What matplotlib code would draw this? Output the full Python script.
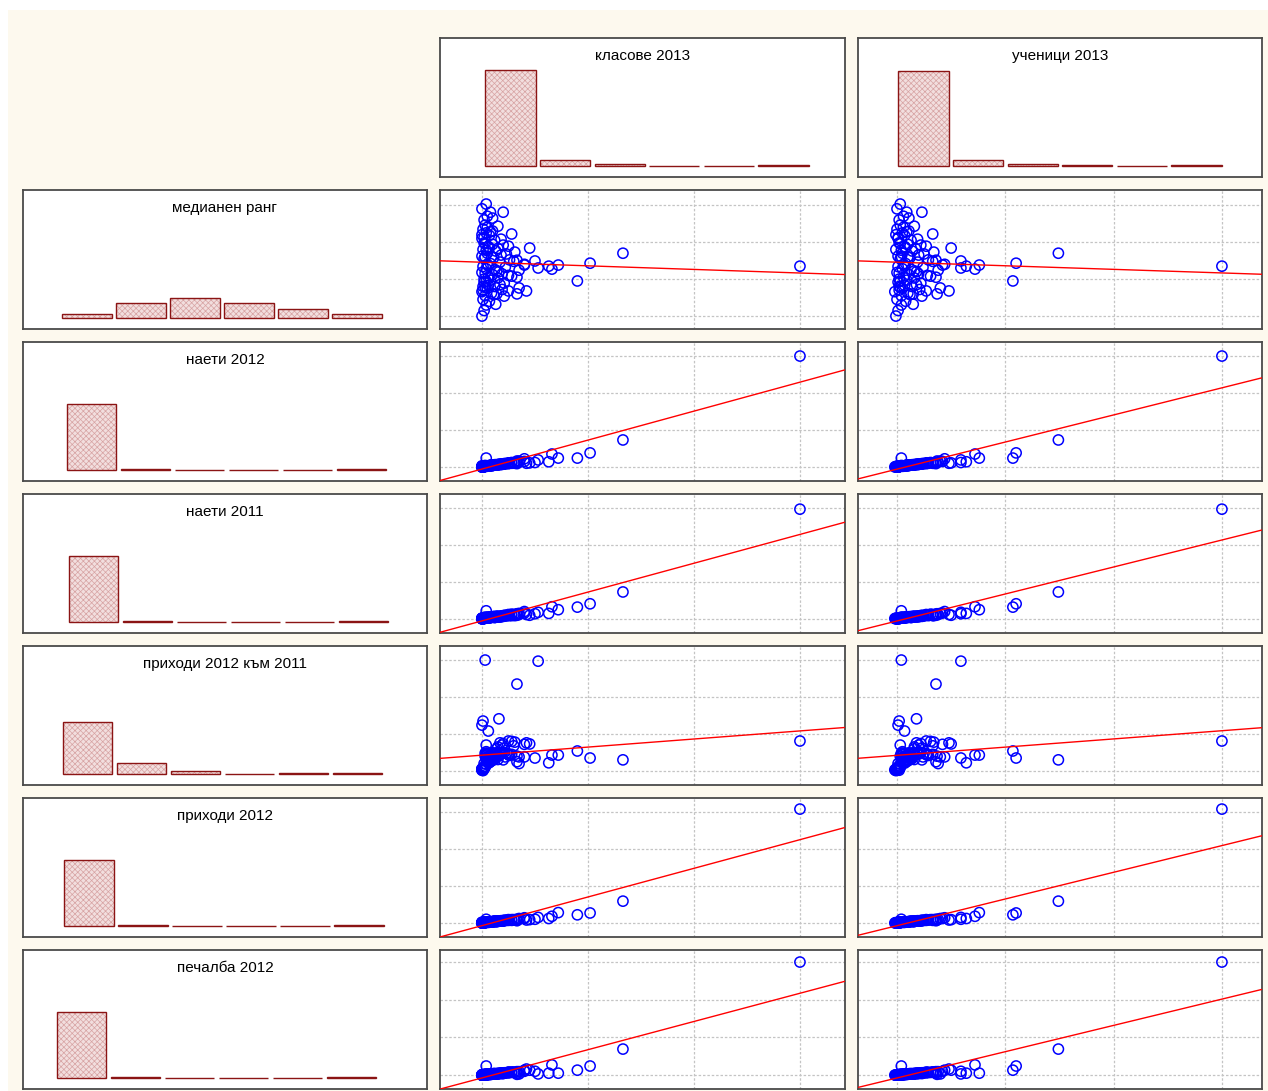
import matplotlib
matplotlib.use("Agg")
import matplotlib.pyplot as plt
import numpy as np

plt.rcParams["font.family"] = ["Liberation Sans", "DejaVu Sans"]

# Data (one value per school, first 21 are the stand-out points, then the dense cluster)
klasove = [3.00, 1.33, 1.02, 0.90, 0.72, 0.66, 0.63, 0.53, 0.50, 0.45, 0.42, 0.35, 0.20, 0.28, 0.33, 0.03, 0.16, 0.01, 0.00, 0.40, 0.33,
           0.00, 0.04, 0.13, 0.02, 0.07, 0.01, 0.21, 0.25, 0.21, 0.03, 0.09, 0.01, 0.05, 0.12, 0.17, 0.02, 0.08, 0.14, 0.00, 0.03, 0.06,
           0.11, 0.19, 0.04, 0.28, 0.19, 0.35, 0.02, 0.06, 0.10, 0.00, 0.14, 0.04, 0.22, 0.40, 0.08, 0.17, 0.25, 0.03, 0.12, 0.01, 0.05,
           0.30, 0.15, 0.33, 0.31, 0.25, 0.02, 0.09, 0.18, 0.05, 0.13, 0.01, 0.07, 0.20, 0.03, 0.26, 0.11, 0.00, 0.23, 0.04, 0.15, 0.06,
           0.10, 0.02, 0.15, 0.12, 0.02, 0.07, 0.04, 0.10, 0.01, 0.05, 0.18, 0.00, 0.08, 0.03, 0.04, 0.08, 0.02, 0.05, 0.00, 0.10, 0.06]
uchenici = [3.00, 1.49, 1.10, 1.07, 0.76, 0.72, 0.64, 0.59, 0.59, 0.50, 0.48, 0.40, 0.23, 0.33, 0.36, 0.04, 0.18, 0.02, 0.01, 0.44, 0.37,
            -0.01, 0.04, 0.15, 0.01, 0.08, 0.00, 0.23, 0.27, 0.22, 0.04, 0.10, 0.02, 0.05, 0.14, 0.18, 0.01, 0.09, 0.15, -0.02, 0.03, 0.07,
            0.12, 0.21, 0.03, 0.31, 0.20, 0.38, 0.02, 0.06, 0.11, 0.00, 0.16, 0.05, 0.24, 0.42, 0.08, 0.19, 0.28, 0.02, 0.13, 0.01, 0.06,
            0.33, 0.16, 0.36, 0.34, 0.27, 0.03, 0.10, 0.20, 0.05, 0.14, -0.01, 0.08, 0.22, 0.03, 0.29, 0.12, 0.01, 0.25, 0.04, 0.17, 0.07,
            0.10, 0.02, 0.16, 0.13, 0.01, 0.07, 0.05, 0.11, 0.00, 0.06, 0.19, -0.01, 0.09, 0.03, 0.03, 0.09, 0.02, 0.06, 0.00, 0.11, 0.07]
mediana = [1.35, 1.70, 1.43, 0.95, 1.38, 1.27, 1.35, 1.30, 1.49, 1.84, 0.68, 0.76, 2.81, 2.22, 1.05, 1.60, 1.20, 0.80, 2.10, 1.40, 0.60,
           0.00, 0.30, 0.32, 0.15, 0.40, 0.45, 0.54, 0.68, 0.89, 0.55, 0.62, 0.70, 0.75, 0.80, 0.85, 0.92, 0.97, 0.60, 0.66, 0.78, 0.83,
           0.58, 0.72, 0.94, 1.08, 1.14, 1.24, 1.00, 1.05, 1.12, 1.18, 1.22, 1.28, 1.32, 1.38, 1.42, 1.46, 1.10, 1.16, 1.26, 1.34, 1.40,
           1.48, 1.03, 1.51, 1.73, 1.89, 1.55, 1.60, 1.65, 1.70, 1.76, 1.80, 1.85, 1.92, 1.96, 1.52, 1.58, 1.62, 1.68, 1.78, 1.83, 1.88,
           1.94, 1.98, 2.43, 2.05, 2.12, 2.18, 2.25, 2.30, 2.35, 2.40, 2.08, 2.20, 2.28, 2.46, 3.03, 2.81, 2.60, 2.70, 2.90, 2.65, 1.36]
naeti_2012 = [3.00, 0.73, 0.38, 0.24, 0.24, 0.35, 0.14, 0.19, 0.12, 0.11, 0.10, 0.16, 0.08, 0.10, 0.09, 0.04, 0.07, 0.02, 0.03, 0.22, 0.16,
              0.01, 0.24, 0.06, 0.02, 0.04, 0.00, 0.09, 0.11, 0.08, 0.02, 0.05, 0.01, 0.03, 0.06, 0.07, 0.01, 0.04, 0.05, 0.00, 0.02, 0.03,
              0.05, 0.08, 0.02, 0.12, 0.07, 0.13, 0.01, 0.03, 0.04, 0.01, 0.06, 0.02, 0.09, 0.15, 0.04, 0.07, 0.10, 0.02, 0.05, 0.00, 0.03,
              0.11, 0.06, 0.12, 0.10, 0.09, 0.02, 0.04, 0.07, 0.03, 0.05, 0.01, 0.03, 0.08, 0.02, 0.10, 0.05, 0.00, 0.09, 0.02, 0.06, 0.03,
              0.04, 0.01, 0.06, 0.05, 0.01, 0.03, 0.02, 0.04, 0.01, 0.02, 0.07, 0.00, 0.03, 0.02, 0.02, 0.04, 0.01, 0.03, 0.00, 0.05, 0.03]
naeti_2011 = [2.97, 0.73, 0.41, 0.32, 0.25, 0.33, 0.15, 0.18, 0.14, 0.10, 0.12, 0.15, 0.07, 0.09, 0.10, 0.05, 0.06, 0.03, 0.02, 0.20, 0.14,
              0.02, 0.22, 0.05, 0.02, 0.05, 0.01, 0.08, 0.12, 0.09, 0.03, 0.04, 0.01, 0.04, 0.07, 0.06, 0.02, 0.04, 0.06, 0.01, 0.02, 0.04,
              0.05, 0.07, 0.03, 0.13, 0.08, 0.12, 0.02, 0.03, 0.05, 0.00, 0.07, 0.03, 0.10, 0.16, 0.05, 0.06, 0.11, 0.02, 0.04, 0.01, 0.03,
              0.12, 0.05, 0.13, 0.09, 0.10, 0.03, 0.05, 0.06, 0.04, 0.06, 0.01, 0.04, 0.09, 0.02, 0.09, 0.06, 0.01, 0.08, 0.03, 0.07, 0.03,
              0.05, 0.02, 0.07, 0.04, 0.02, 0.03, 0.03, 0.05, 0.01, 0.03, 0.08, 0.01, 0.04, 0.02, 0.03, 0.05, 0.01, 0.04, 0.01, 0.06, 0.03]
prihodi_ratio = [0.81, 0.30, 0.35, 0.54, 0.43, 0.43, 0.22, 2.97, 0.35, 0.73, 0.76, 0.38, 0.30, 0.45, 2.35, 3.00, 1.41, 1.35, 1.24, 0.38, 0.40,
                 0.05, 0.45, 0.45, 0.20, 0.30, 0.08, 0.62, 0.81, 0.50, 0.48, 0.35, 0.02, 0.48, 0.48, 0.76, 0.10, 0.40, 0.49, 0.03, 0.40, 0.28,
                 0.44, 0.47, 0.70, 0.80, 0.70, 0.20, 0.06, 0.33, 0.47, 0.04, 0.60, 0.35, 0.38, 0.72, 0.26, 0.47, 0.45, 0.11, 0.36, 0.07, 0.47,
                 0.68, 0.31, 0.25, 0.78, 0.44, 0.09, 0.27, 0.46, 0.45, 0.34, 0.01, 0.24, 0.74, 0.13, 0.42, 0.37, 0.05, 0.48, 0.30, 0.43, 0.21,
                 0.29, 0.08, 0.65, 0.32, 0.10, 0.23, 0.52, 0.39, 0.04, 0.38, 0.46, 0.02, 0.30, 0.12, 0.18, 0.41, 0.09, 0.44, 0.06, 0.49, 1.08]
prihodi_2012 = [3.08, 0.59, 0.27, 0.22, 0.28, 0.18, 0.12, 0.15, 0.10, 0.09, 0.08, 0.12, 0.06, 0.07, 0.06, 0.02, 0.05, 0.01, 0.02, 0.14, 0.08,
                0.01, 0.10, 0.04, 0.01, 0.03, 0.00, 0.07, 0.09, 0.06, 0.02, 0.03, 0.01, 0.02, 0.05, 0.05, 0.01, 0.03, 0.04, 0.00, 0.01, 0.02,
                0.04, 0.06, 0.02, 0.09, 0.05, 0.10, 0.01, 0.02, 0.03, 0.00, 0.04, 0.02, 0.07, 0.12, 0.03, 0.05, 0.08, 0.01, 0.04, 0.00, 0.02,
                0.09, 0.04, 0.10, 0.08, 0.07, 0.01, 0.03, 0.05, 0.02, 0.04, 0.00, 0.02, 0.06, 0.01, 0.08, 0.04, 0.00, 0.07, 0.02, 0.05, 0.02,
                0.03, 0.01, 0.05, 0.04, 0.01, 0.02, 0.02, 0.03, 0.00, 0.02, 0.06, 0.00, 0.03, 0.01, 0.02, 0.03, 0.01, 0.02, 0.00, 0.04, 0.02]
pechalba_2012 = [3.00, 0.69, 0.24, 0.13, 0.05, 0.27, 0.05, 0.03, 0.10, 0.13, 0.16, 0.03, 0.04, 0.08, 0.05, 0.02, 0.04, 0.00, 0.01, 0.13, 0.02,
                 0.00, 0.24, 0.03, 0.01, 0.02, 0.00, 0.06, 0.08, 0.05, 0.01, 0.03, 0.00, 0.02, 0.04, 0.05, 0.01, 0.02, 0.03, 0.00, 0.01, 0.02,
                 0.04, 0.05, 0.01, 0.07, 0.04, 0.09, 0.00, 0.02, 0.03, 0.00, 0.04, 0.01, 0.06, 0.10, 0.02, 0.04, 0.07, 0.01, 0.03, 0.00, 0.02,
                 0.08, 0.03, 0.09, 0.07, 0.06, 0.01, 0.02, 0.05, 0.01, 0.03, 0.00, 0.02, 0.05, 0.01, 0.07, 0.03, 0.00, 0.06, 0.01, 0.04, 0.02,
                 0.03, 0.01, 0.04, 0.03, 0.00, 0.02, 0.01, 0.03, 0.00, 0.01, 0.05, 0.00, 0.02, 0.01, 0.01, 0.03, 0.00, 0.02, 0.00, 0.03, 0.02]

x_vars = [klasove, uchenici]
x_names = ["класове 2013", "ученици 2013"]
y_vars = [mediana, naeti_2012, naeti_2011, prihodi_ratio, prihodi_2012, pechalba_2012]
y_names = ["медианен ранг", "наети 2012", "наети 2011", "приходи 2012 към 2011", "приходи 2012", "печалба 2012"]

# Layout (pixels of the 1268x1091 picture)
W, H = 1268, 1091
hist_col = (23, 427)
scat_cols = [(440, 845), (858, 1262)]
top_row = (38, 177)
rows = [(190, 329), (342, 481), (494, 633), (646, 785), (798, 937), (950, 1089)]
scat_xlims = [(-0.396, 3.425), (-0.36, 3.37)]
scat_ylims = [(-0.35, 3.41), (-0.38, 3.38), (-0.38, 3.38), (-0.38, 3.38), (-0.38, 3.38), (-0.37, 3.32)]
left_hist_c0 = [87, 91.5, 93.5, 87.5, 89, 81.5]
top_hist_c0 = [510.5, 923.5]

bar_face = "#f2dede"
bar_hatch = "#d7a3a3"
bar_edge = "#8b1414"
frame = "#4a4a4a"
cream = "#fdf9ee"


def rect(x0, y0, x1, y1):
    return [x0 / W, 1 - y1 / H, (x1 - x0) / W, (y1 - y0) / H]


def style_frame(ax):
    ax.set_xticks([])
    ax.set_yticks([])
    ax.set_facecolor("white")
    for s in ax.spines.values():
        s.set_color(frame)
        s.set_linewidth(1.3)


def draw_hist(ax, values, name, c0, panel, period, ylim):
    counts, _ = np.histogram(values, bins=6)
    idx = np.arange(6)
    ax.bar(idx, counts, width=0.92, color=bar_face, edgecolor=bar_hatch, hatch="xxxxxx", linewidth=0)
    ax.bar(idx, counts, width=0.92, color="none", edgecolor=bar_edge, linewidth=1.0)
    ax.set_xlim(-(c0 - panel[0]) / period, (panel[1] - c0) / period)
    ax.set_ylim(*ylim)
    ax.text(0.5, 1 - 11 / 139, name, transform=ax.transAxes, ha="center", va="top", fontsize=11)
    style_frame(ax)


plt.rcParams["hatch.linewidth"] = 0.5
fig = plt.figure(figsize=(W / 100, H / 100), dpi=100)
fig.patches.append(plt.Rectangle((8 / W, 0), 1 - 8 / W, 1 - 10 / H, transform=fig.transFigure,
                                 facecolor=cream, edgecolor="none", zorder=-10))

# top histograms
for j, (xv, xn) in enumerate(zip(x_vars, x_names)):
    ax = fig.add_axes(rect(scat_cols[j][0], top_row[0], scat_cols[j][1], top_row[1]))
    draw_hist(ax, xv, xn, top_hist_c0[j], scat_cols[j], 54.6, (-11, 128))

# left histograms + scatter panels
for i, (yv, yn) in enumerate(zip(y_vars, y_names)):
    ax = fig.add_axes(rect(hist_col[0], rows[i][0], hist_col[1], rows[i][1]))
    draw_hist(ax, yv, yn, left_hist_c0[i], hist_col, 54, (-17.2, 200))

    for j, xv in enumerate(x_vars):
        ax = fig.add_axes(rect(scat_cols[j][0], rows[i][0], scat_cols[j][1], rows[i][1]))
        x = np.array(xv)
        y = np.array(yv)
        ax.set_xlim(*scat_xlims[j])
        ax.set_ylim(*scat_ylims[i])
        for g in range(4):
            ax.axvline(g, color="#c4c4c4", linestyle=(0, (2, 1.5)), linewidth=0.9, zorder=0)
            ax.axhline(g, color="#c4c4c4", linestyle=(0, (2, 1.5)), linewidth=0.9, zorder=0)
        ax.scatter(x, y, s=54, facecolors="none", edgecolors="#0000ff", linewidths=1.1, zorder=2)
        slope, intercept = np.polyfit(x, y, 1)
        ax.axline((0, intercept), slope=slope, color="red", linewidth=1.0, zorder=3)
        style_frame(ax)

fig.savefig("out.png", dpi=100)
